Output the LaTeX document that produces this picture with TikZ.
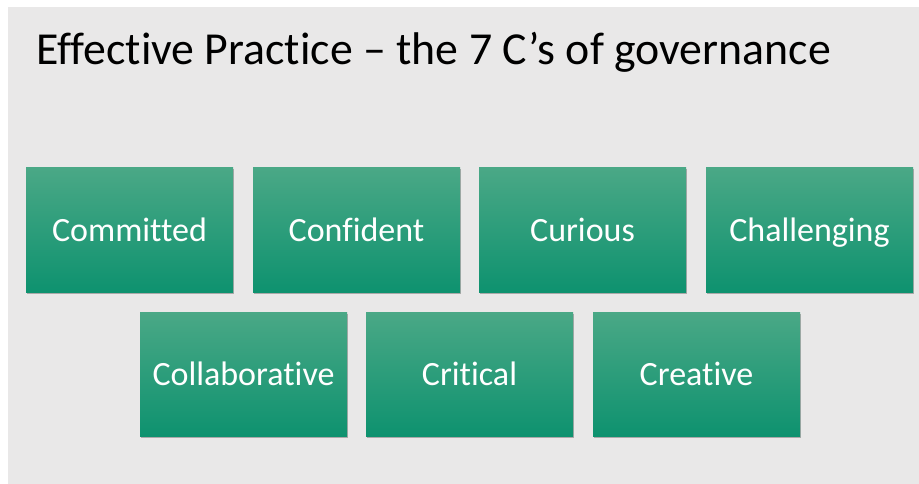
\documentclass[tikz,border=0pt]{standalone}
\usepackage{fontspec}
\setmainfont[RawFeature={-liga}]{Carlito}
\usetikzlibrary{shadows}
\definecolor{bgGray}{RGB}{233,232,232}
\definecolor{gTop}{RGB}{74,168,134}
\definecolor{gMid}{RGB}{30,159,121}
\definecolor{gBot}{RGB}{14,146,111}
\tikzset{
  cbox/.style={rectangle, minimum width=207pt, minimum height=124pt, inner sep=0pt,
    top color=gTop, middle color=gMid, bottom color=gBot, draw=none,
    text=white, font=\fontsize{34}{40}\selectfont, text height=22pt, text depth=0pt,
    drop shadow={shadow xshift=1.2pt, shadow yshift=-1.5pt, opacity=0.4, fill=black!70}},
  ttl/.style={anchor=base west, inner sep=0pt, font=\fontsize{45.8}{54}\selectfont, text=black}
}
\begin{document}
\begin{tikzpicture}[x=1pt,y=-1pt]
\useasboundingbox (0,0) rectangle (919,484);
\fill[white] (0,0) rectangle (919,484);
\fill[bgGray] (8,7) rectangle (919,484);
\node[ttl] (title) at (36,65) {Effective Practice – the 7 C’s of governance};
\node[cbox] (committed) at (129.5,230) {Committed};
\node[cbox] (confident) at (356.5,230) {Confident};
\node[cbox] (curious) at (582.5,230) {Curious};
\node[cbox] (challenging) at (809.5,230) {Challenging};
\node[cbox] (collaborative) at (243.5,374) {Collaborative};
\node[cbox] (critical) at (469.5,374) {Critical};
\node[cbox] (creative) at (696.5,374) {Creative};
\end{tikzpicture}
\end{document}
